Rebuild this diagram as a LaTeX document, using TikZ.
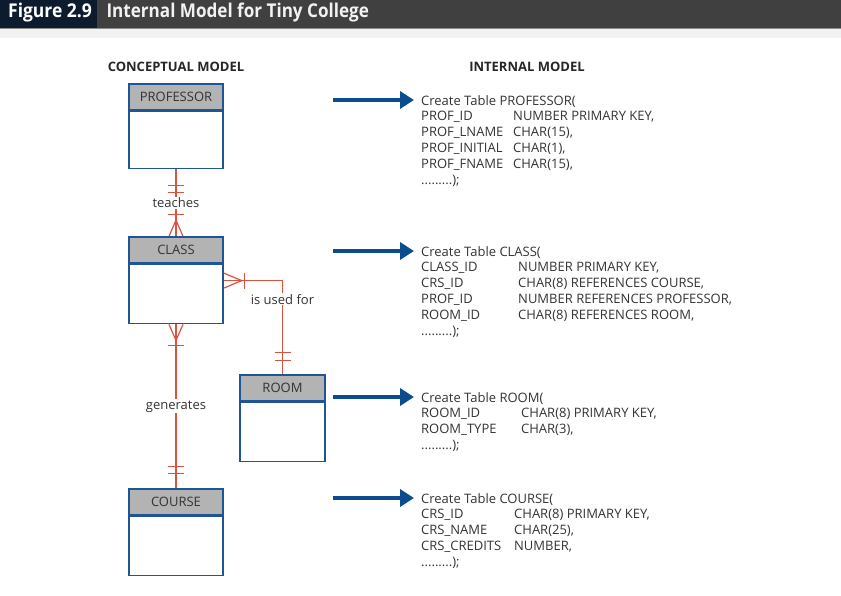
\documentclass[tikz,border=0pt]{standalone}
\usepackage{fontspec}
\setmainfont{Open Sans}
\usetikzlibrary{positioning,arrows.meta}
\definecolor{barnavy}{HTML}{0D1B2E}
\definecolor{bargrey}{HTML}{404040}
\definecolor{entblue}{HTML}{1F5597}
\definecolor{entgrey}{HTML}{B3B3B3}
\definecolor{relred}{HTML}{D9543E}
\definecolor{arrblue}{HTML}{0B4C8C}
\definecolor{txtgrey}{HTML}{333333}
\tikzset{enthead/.style = {draw=entblue, fill=entgrey, line width=1.6pt, minimum width=94pt, minimum height=26pt, inner sep=0pt, text=txtgrey, font=\fontsize{13}{15}\selectfont},
         entbody/.style = {draw=entblue, fill=white, line width=1.6pt, minimum width=94pt, minimum height=57pt, inner sep=0pt},
         rel/.style = {draw=relred, line width=1.2pt},
         rellabel/.style = {fill=white, inner sep=1pt, text=txtgrey, font=\fontsize{13}{15}\selectfont},
         sqlarrow/.style = {draw=arrblue, line width=4pt, -{Triangle[length=14pt,width=17pt]}},
         sql/.style = {anchor=base west, inner sep=0pt, text=txtgrey, font=\fontsize{13}{15.8}\selectfont},
         modeltitle/.style = {font=\bfseries\fontsize{13}{15}\selectfont, text=black!85},
}

\begin{document}
\begin{tikzpicture}[x=1pt, y=-1pt]
  \useasboundingbox (0,0) rectangle (841,595);

  % title bar
  \fill[bargrey] (0,0) rectangle (841,28);
  \fill[barnavy] (0,0) rectangle (97,28);
  \fill[black!5] (0,29) rectangle (841,38);
  \draw[black!45, line width=1pt] (0,28.5) -- (841,28.5);
  \node[text=white, font=\bfseries\fontsize{19}{20}\selectfont] (figno) at (50,13) {\scalebox{0.92}[1]{Figure 2.9}};
  \node[anchor=west, text=black!5, font=\bfseries\fontsize{19}{20}\selectfont] (figtitle) at (103,13) {\scalebox{0.9}[1]{Internal Model for Tiny College}};

  \node[modeltitle] (concept) at (176,67) {CONCEPTUAL MODEL};
  \node[modeltitle] (internal) at (527,67) {INTERNAL MODEL};

  % entities
  \node[enthead] (profh) at (176,97) {PROFESSOR};
  \node[entbody, below = 0pt of profh] (prof) {};
  \node[enthead] (classh) at (176,250) {CLASS};
  \node[entbody, below = 0pt of classh, minimum height = 59pt] (class) {};
  \node[enthead, minimum width = 85pt] (roomh) at (282.5,388) {ROOM};
  \node[entbody, below = 0pt of roomh, minimum width = 85pt, minimum height = 59pt] (room) {};
  \node[enthead] (courseh) at (176,502) {COURSE};
  \node[entbody, below = 0pt of courseh, minimum height = 59pt] (course) {};

  % relationships
  \draw[rel] (prof.south) -- node[rellabel] {teaches} (classh.north);
  \draw[rel] ([yshift=-16pt]prof.south) ++(-8,0) -- ++(16,0);
  \draw[rel] ([yshift=-23pt]prof.south) ++(-8,0) -- ++(16,0);
  \draw[rel] ([yshift=22pt]classh.north) ++(-8,0) -- ++(16,0);
  \draw[rel] ([xshift=-7pt]classh.north) -- ([yshift=16pt]classh.north) -- ([xshift=7pt]classh.north);

  \draw[rel] ([yshift=13.5pt]class.east) -| node[rellabel, pos=0.6] {is used for} (roomh.north);
  \draw[rel] ([yshift=21pt]class.east) -- ([xshift=18pt,yshift=13.5pt]class.east) -- ([yshift=6pt]class.east);
  \draw[rel] ([xshift=21pt,yshift=13.5pt]class.east) ++(0,-8) -- ++(0,16);
  \draw[rel] ([yshift=22pt]roomh.north) ++(-8,0) -- ++(16,0);
  \draw[rel] ([yshift=14pt]roomh.north) ++(-8,0) -- ++(16,0);

  \draw[rel] (class.south) -- node[rellabel] {generates} (courseh.north);
  \draw[rel] ([xshift=-7pt]class.south) -- ([yshift=-16pt]class.south) -- ([xshift=7pt]class.south);
  \draw[rel] ([yshift=-21pt]class.south) ++(-8,0) -- ++(16,0);
  \draw[rel] ([yshift=22pt]courseh.north) ++(-8,0) -- ++(16,0);
  \draw[rel] ([yshift=15pt]courseh.north) ++(-8,0) -- ++(16,0);

  % internal model
  \node[sql] (profsql) at (421,105) {\begin{tabular}[t]{@{}p{92pt}@{}l@{}}
    \multicolumn{2}{@{}l@{}}{Create Table PROFESSOR(}\\
    PROF\_ID & NUMBER PRIMARY KEY,\\
    PROF\_LNAME & CHAR(15),\\
    PROF\_INITIAL & CHAR(1),\\
    PROF\_FNAME & CHAR(15),\\
    \multicolumn{2}{@{}l@{}}{.........);}
  \end{tabular}};
  \node[sql] (classsql) at (421,256) {\begin{tabular}[t]{@{}p{97pt}@{}l@{}}
    \multicolumn{2}{@{}l@{}}{Create Table CLASS(}\\
    CLASS\_ID & NUMBER PRIMARY KEY,\\
    CRS\_ID & CHAR(8) REFERENCES COURSE,\\
    PROF\_ID & NUMBER REFERENCES PROFESSOR,\\
    ROOM\_ID & CHAR(8) REFERENCES ROOM,\\
    \multicolumn{2}{@{}l@{}}{.........);}
  \end{tabular}};
  \node[sql] (roomsql) at (421,402) {\begin{tabular}[t]{@{}p{100pt}@{}l@{}}
    \multicolumn{2}{@{}l@{}}{Create Table ROOM(}\\
    ROOM\_ID & CHAR(8) PRIMARY KEY,\\
    ROOM\_TYPE & CHAR(3),\\
    \multicolumn{2}{@{}l@{}}{.........);}
  \end{tabular}};
  \node[sql] (coursesql) at (421,503) {\begin{tabular}[t]{@{}p{93pt}@{}l@{}}
    \multicolumn{2}{@{}l@{}}{Create Table COURSE(}\\
    CRS\_ID & CHAR(8) PRIMARY KEY,\\
    CRS\_NAME & CHAR(25),\\
    CRS\_CREDITS & NUMBER,\\
    \multicolumn{2}{@{}l@{}}{.........);}
  \end{tabular}};

  \coordinate (a1) at (333,100);
  \coordinate (a2) at (333,251);
  \coordinate (a3) at (333,397);
  \coordinate (a4) at (333,498);
  \draw[sqlarrow] (a1) -- ([xshift=-7pt,yshift=5pt]profsql.base west);
  \draw[sqlarrow] (a2) -- ([xshift=-7pt,yshift=5pt]classsql.base west);
  \draw[sqlarrow] (a3) -- ([xshift=-7pt,yshift=5pt]roomsql.base west);
  \draw[sqlarrow] (a4) -- ([xshift=-7pt,yshift=5pt]coursesql.base west);

\end{tikzpicture}
\end{document}
